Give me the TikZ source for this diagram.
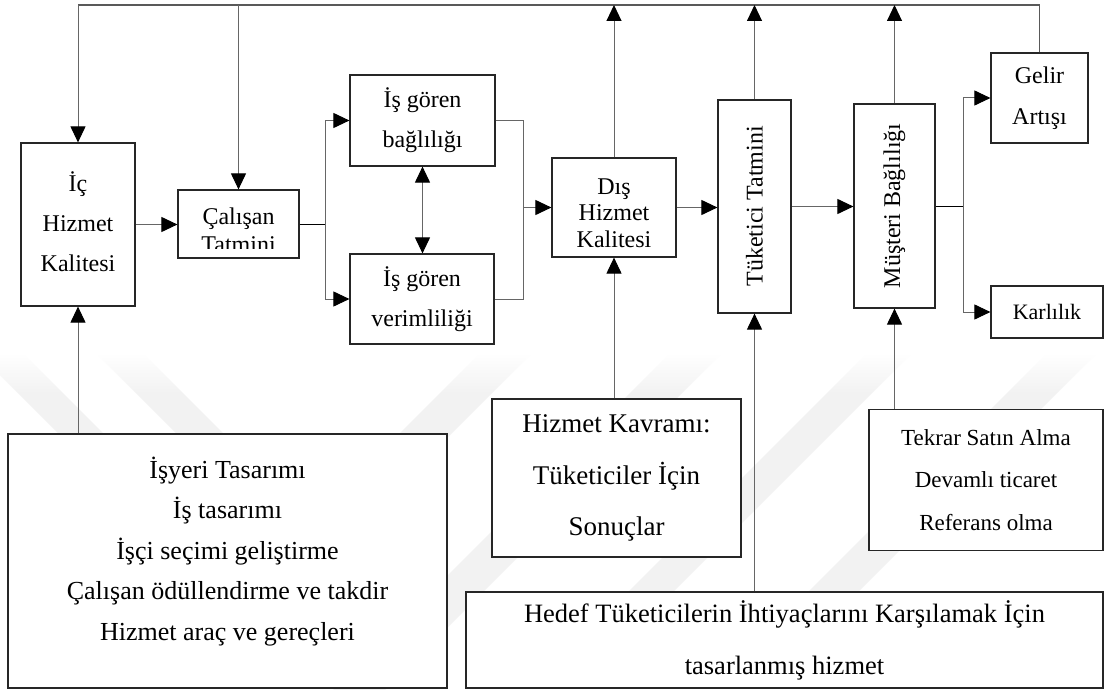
\documentclass[tikz,border=0pt]{standalone}
\usepackage{fontspec}
\setmainfont{Liberation Serif}
\usetikzlibrary{arrows.meta,fadings}

\tikzset{
  box/.style={draw=black!85, line width=1.2pt, fill=white, inner sep=0pt, align=center,
              font=\fontsize{24}{40}\selectfont},
  plain/.style={inner sep=0pt, align=center, font=\fontsize{24}{40}\selectfont},
  conn/.style={draw=black!60, line width=1pt},
  tip/.style={Triangle[length=16pt,width=15pt,color=black]},
  arr/.style={conn, -{Triangle[length=16pt,width=15pt,color=black]}},
  darr/.style={conn, {Triangle[length=16pt,width=15pt,color=black]}-{Triangle[length=16pt,width=15pt,color=black]}},
  band/.style={fill=black!5, draw=none}
}

\begin{document}
\begin{tikzpicture}[x=1pt, y=-1pt]
\useasboundingbox (0,0) rectangle (1105,690);
\fill[white] (0,0) rectangle (1105,690);

% faint background watermark bands
\begin{scope}
  \clip (0,355) rectangle (1105,690);
  \fill[band] (-20,355) -- (25,355) -- (195,525) -- (150,525) -- cycle;
  \fill[band] (98,355) -- (145,355) -- (315,525) -- (268,525) -- cycle;
  \fill[band] (478,355) -- (530,355) -- (230,655) -- (178,655) -- cycle;
  \fill[band] (668,355) -- (720,355) -- (368,707) -- (316,707) -- cycle;
  \fill[band] (865,355) -- (910,355) -- (578,687) -- (533,687) -- cycle;
  \fill[band] (1045,355) -- (1095,355) -- (763,687) -- (713,687) -- cycle;
\end{scope}
\fill[white, path fading=south] (0,354) rectangle (1105,395);

% main chain
\node[box, minimum width=114, minimum height=163] (ic)  at (78,224.5) {};
\node[plain] (ic-t) at (78,222) {İç\\Hizmet\\Kalitesi};
\node[box, minimum width=121, minimum height=68]  (cal) at (238.5,224) {};
\begin{scope}
  \clip (178,190) rectangle (299,248);
  \node[plain, font=\fontsize{24}{28}\selectfont] (cal-t) at (238.5,230) {Çalışan\\Tatmini};
\end{scope}
\node[box, minimum width=145, minimum height=91] (bag) at (422.5,120.5) {İş gören\\bağlılığı};
\node[box, minimum width=144, minimum height=90] (ver) at (422,299) {İş gören\\verimliliği};
\node[box, minimum width=124, minimum height=99] (dis) at (614,207.5) {};
\node[plain, font=\fontsize{24}{26.5}\selectfont] (dis-t) at (614,213) {Dış\\Hizmet\\Kalitesi};
\node[box, minimum width=73, minimum height=213] (tuk) at (754.5,206.5) {};
\node[plain, rotate=90] (tuk-t) at (tuk.center) {Tüketici Tatmini};
\node[box, minimum width=81, minimum height=204] (mus) at (894.5,206) {};
\node[plain, rotate=90] (mus-t) at (mus.center) {Müşteri Bağlılığı};
\node[box, minimum width=97, minimum height=90, font=\fontsize{24}{41}\selectfont] (gel) at (1039.5,98) {Gelir\\Artışı};
\node[box, minimum width=112, minimum height=52, font=\fontsize{22}{26}\selectfont] (kar) at (1047,312) {Karlılık};

% input boxes
\node[box, minimum width=439, minimum height=254] (isy) at (227.5,561) {};
\node[plain, font=\fontsize{26}{40.5}\selectfont] (isy-t) at (227.5,551.5)
  {İşyeri Tasarımı\\İş tasarımı\\İşçi seçimi geliştirme\\Çalışan ödüllendirme ve takdir\\Hizmet araç ve gereçleri};
\node[box, minimum width=249, minimum height=158, font=\fontsize{27}{51.5}\selectfont] (hk) at (616.5,478)
  {Hizmet Kavramı:\\Tüketiciler İçin\\Sonuçlar};
\node[box, minimum width=234, minimum height=141, font=\fontsize{23}{42.5}\selectfont] (tek) at (986,480)
  {Tekrar Satın Alma\\Devamlı ticaret\\Referans olma};
\node[box, minimum width=637, minimum height=96, font=\fontsize{26.5}{52}\selectfont] (hed) at (784.5,640)
  {Hedef Tüketicilerin İhtiyaçlarını Karşılamak İçin\\tasarlanmış hizmet};

% feedback line along the top
\coordinate (top) at (0,5);
\draw[conn, line width=1.3pt, draw=black!65] (gel.north) -- (gel.north |- top) -- (ic.north |- top);
\draw[arr] (ic.north |- top) -- (ic.north);
\draw[arr] (cal.north |- top) -- (cal.north);
\draw[arr] (dis.north) -- (dis.north |- top);
\draw[arr] (tuk.north) -- (tuk.north |- top);
\draw[arr] (mus.north) -- (mus.north |- top);

% forward flow
\draw[arr] (ic.east) -- (ic.east -| cal.west);
\coordinate (split) at (325,224);
\draw[conn, draw=black] (cal.east) -- (split);
\draw[arr] (split) |- (bag.west);
\draw[arr] (split) |- (ver.west);
\draw[darr] (bag.south) -- (bag.south |- ver.north);
\coordinate (merge) at (523,207.5);
\draw[conn] (bag.east) -| (merge);
\draw[conn] (ver.east) -| (merge);
\draw[arr] (merge) -- (dis.west);
\draw[arr] (dis.east) -- (dis.east -| tuk.west);
\draw[arr] (tuk.east) -- (tuk.east -| mus.west);
\coordinate (fork) at (963,206);
\draw[conn, draw=black] (mus.east) -- (fork);
\draw[arr] (fork) |- (gel.west);
\draw[arr] (fork) |- (kar.west);

% inputs from below
\draw[arr] (ic.south |- isy.north) -- (ic.south);
\draw[arr] (dis.south |- hk.north) -- (dis.south);
\draw[arr] (tuk.south |- hed.north) -- (tuk.south);
\draw[arr] (mus.south |- tek.north) -- (mus.south);
\end{tikzpicture}
\end{document}
